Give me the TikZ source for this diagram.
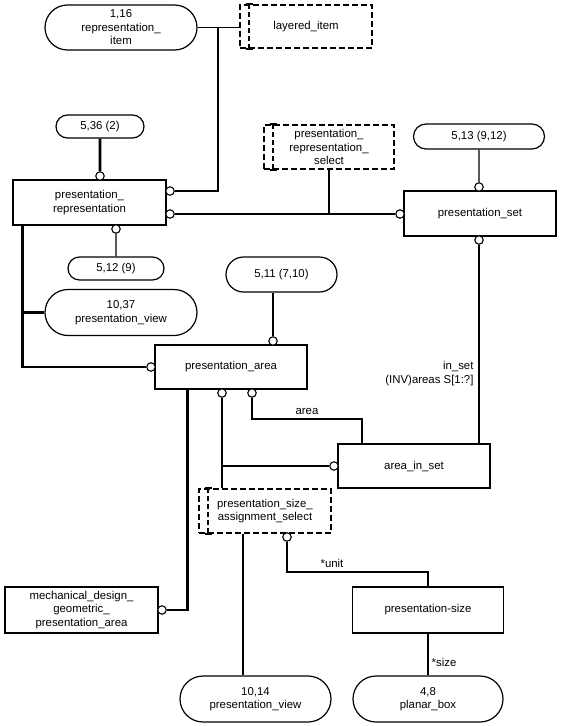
\documentclass[tikz,border=0pt]{standalone}
\usepackage{fontspec}
\setmainfont{Liberation Sans}
\usetikzlibrary{shapes.misc, calc}
\tikzset{
every node/.style={font=\fontsize{11.4}{13.5}\selectfont, align=center}, % all texts in the diagram
entity/.style={draw, line width=1.2pt, rectangle, inner sep=0pt}, % an entity box
defbox/.style={draw, line width=1.2pt, rounded rectangle, inner sep=0pt}, % reference to another page
selbox/.style={draw, line width=1.9pt, dash pattern=on 6pt off 3pt, rectangle, inner sep=0pt}, % a select type
ring/.style={draw, circle, fill=white, line width=1.1pt, minimum size=8.5pt, inner sep=0pt}, % the small circle at the end of a relation
rel/.style={line width=1.1pt}, % normal relation
sub/.style={line width=2.8pt}, % subtype relation
}
\begin{document}
\begin{tikzpicture}[x=1pt, y=-1pt]
\useasboundingbox (0,0) rectangle (561,726);

% boxes
\node[defbox, minimum width=152pt, minimum height=45pt] (repitem) at (121,27.5) {1,16\\representation\_\\item};
\node[selbox, minimum width=132pt, minimum height=43pt] (layered) at (306,26.5) {layered\_item};
\node[defbox, minimum width=88pt, minimum height=23pt] (ref536) at (100,126.5) {5,36 (2)};
\node[selbox, minimum width=130pt, minimum height=44pt] (repsel) at (329,147) {presentation\_\\representation\_\\select};
\node[defbox, minimum width=131pt, minimum height=25pt] (ref513) at (479,136.5) {5,13 (9,12)};
\node[entity, minimum width=153pt, minimum height=45pt] (presrep) at (89.5,202.5) {presentation\_\\representation};
\node[entity, minimum width=152pt, minimum height=45pt] (presset) at (480,213.5) {presentation\_set};
\node[defbox, minimum width=96pt, minimum height=23pt] (ref512) at (116,268.5) {5,12 (9)};
\node[defbox, minimum width=111pt, minimum height=35pt] (ref511) at (281.5,274.5) {5,11 (7,10)};
\node[defbox, minimum width=152pt, minimum height=46pt] (view1037) at (121,312.5) {10,37\\presentation\_view};
\node[entity, minimum width=152pt, minimum height=44pt] (presarea) at (231,367) {presentation\_area};
\node[entity, minimum width=152pt, minimum height=44pt] (areainset) at (414,466) {area\_in\_set};
\node[selbox, minimum width=132pt, minimum height=44pt] (sizesel) at (265,511) {presentation\_size\_\\assignment\_select};
\node[entity, minimum width=153pt, minimum height=46pt] (mechdes) at (81.5,610) {mechanical\_design\_\\geometric\_\\presentation\_area};
\node[entity, minimum width=151pt, minimum height=46pt] (pressize) at (428,610) {presentation-size};
\node[defbox, minimum width=151pt, minimum height=46pt] (view1014) at (255.5,699) {10,14\\presentation\_view};
\node[defbox, minimum width=150pt, minimum height=46pt] (planar) at (428,699) {4,8\\planar\_box};

% bar inside the select boxes
\foreach \s in {layered, repsel, sizesel}{
  \draw[line width=1.6pt, dash pattern=on 5pt off 3pt] ([xshift=10pt]\s.north west) -- ([xshift=10pt]\s.south west);
  \draw[line width=1.6pt] ([xshift=6.5pt]\s.north west) -- ([xshift=13.5pt]\s.north west)
    ([xshift=6.5pt]\s.south west) -- ([xshift=13.5pt]\s.south west);
}

% circles
\node[ring] (c1) at (100,176) {};
\node[ring] (c2) at (170,191) {};
\node[ring] (c3) at (170,214) {};
\node[ring] (c4) at (116,229) {};
\node[ring] (c5) at (479,187) {};
\node[ring] (c6) at (400,214) {};
\node[ring] (c7) at (479,240) {};
\node[ring] (c8) at (151,367) {};
\node[ring] (c9) at (273,341) {};
\node[ring] (c10) at (222,393) {};
\node[ring] (c11) at (252,393) {};
\node[ring] (c12) at (334,466) {};
\node[ring] (c13) at (162,610) {};
\node[ring] (c14) at (287,537) {};

% bends
\coordinate (jitem) at (218,27.5);
\coordinate (lbar) at ([xshift=10pt]presrep.south west);
\coordinate (rbar) at ([xshift=33pt]presarea.south west);
\coordinate (areabend) at (362,419);
\coordinate (viewtop) at ([xshift=-12.5pt]view1014.north);

% relations
\draw[rel] (repitem.east) -- (repitem.east -| layered.west);
\draw[rel] (c2) -- (c2 -| jitem) -- (jitem);
\draw[sub] (ref536) -- (c1);
\draw[rel] (c4) -- (ref512);
\draw[rel] (c3) -- (c6);
\draw[rel] (repsel.south) -- (repsel.south |- c3);
\draw[rel] (ref513) -- (c5);
\draw[rel] (c7) -- (c7 |- areainset.north);
\draw[sub] (lbar) |- (c8);
\draw[sub] (view1037.west) -- (view1037.west -| lbar);
\draw[rel] (c9) -- (c9 |- ref511.south);
\draw[sub] (rbar) |- (c13);
\draw[rel] (c10) -- (c10 |- sizesel.north);
\draw[rel] (c10 |- c12) -- (c12);
\draw[rel] (c11) |- (areabend) -- (areabend |- areainset.north);
\draw[rel] (viewtop |- sizesel.south) -- (viewtop);
\draw[rel] (c14) -- ++(0,35) -| (pressize.north);
\draw[rel] (pressize) -- (planar);

% labels
\node[anchor=east, align=right] (invlabel) at (477,373.5) {in\_set\\(INV)areas S[1:?]};
\node (arealabel) at (307,411) {area};
\node (unitlabel) at (332,563) {*unit};
\node (sizelabel) at (444,662) {*size};
\end{tikzpicture}
\end{document}
